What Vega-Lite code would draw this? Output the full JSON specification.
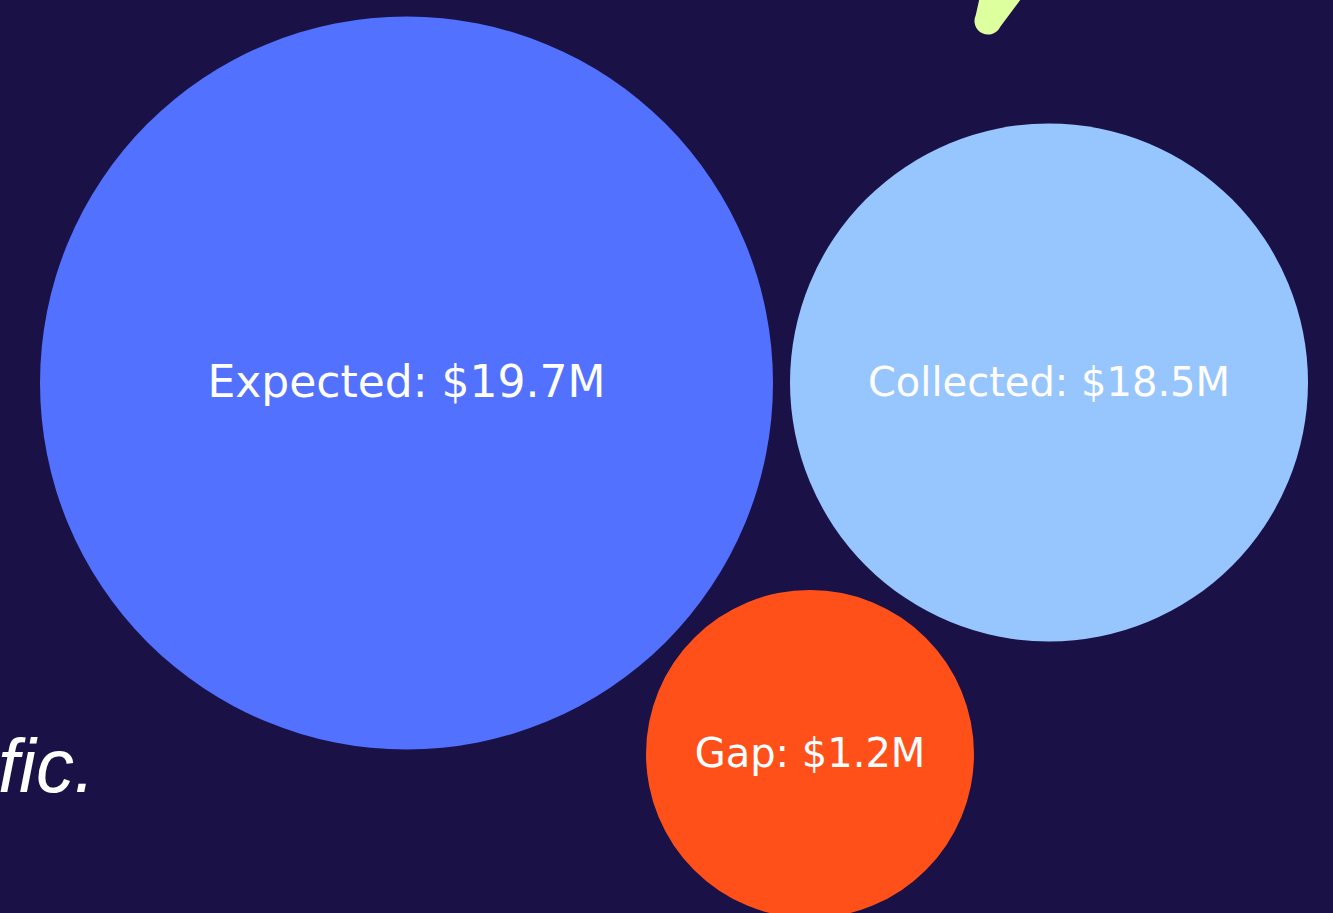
{
  "$schema": "https://vega.github.io/schema/vega-lite/v6.json",
  "width": 1333,
  "height": 913,
  "autosize": {"type": "none"},
  "padding": 0,
  "background": "#1A1147",
  "config": {"view": {"stroke": null}},
  "datasets": {
    "bubbles": [
      {"category": "Expected", "value": 19.7, "label": "Expected: $19.7M", "x": 406.5, "y": 383},
      {"category": "Collected", "value": 18.5, "label": "Collected: $18.5M", "x": 1049, "y": 382.5},
      {"category": "Gap", "value": 1.2, "label": "Gap: $1.2M", "x": 810, "y": 754}
    ],
    "accent": [
      {"order": 1, "x": 988, "y": 21},
      {"order": 2, "x": 1016, "y": -40}
    ],
    "note": [
      {"text": "fic.", "x": -2, "y": 792}
    ]
  },
  "layer": [
    {
      "data": {"name": "bubbles"},
      "mark": {"type": "point", "shape": "circle", "filled": true, "opacity": 1, "strokeWidth": 0},
      "encoding": {
        "x": {"field": "x", "type": "quantitative", "scale": {"domain": [0, 1333], "zero": false, "nice": false}, "axis": null},
        "y": {"field": "y", "type": "quantitative", "scale": {"domain": [0, 913], "zero": false, "nice": false, "reverse": true}, "axis": null},
        "size": {"field": "value", "type": "quantitative", "scale": {"type": "threshold", "domain": [5, 19], "range": [107584, 268324, 537289]}, "legend": null},
        "fill": {"field": "category", "type": "nominal", "scale": {"domain": ["Expected", "Collected", "Gap"], "range": ["#5271FF", "#97C5FD", "#FF5019"]}, "legend": null}
      }
    },
    {
      "data": {"name": "bubbles"},
      "mark": {"type": "text", "font": "DejaVu Sans", "color": "#FFFFFF", "align": "center", "baseline": "middle", "dy": 1},
      "encoding": {
        "x": {"field": "x", "type": "quantitative"},
        "y": {"field": "y", "type": "quantitative"},
        "text": {"field": "label", "type": "nominal"},
        "size": {"field": "value", "type": "quantitative", "scale": {"type": "threshold", "domain": [5, 19], "range": [40, 40, 44]}, "legend": null}
      }
    },
    {
      "data": {"name": "accent"},
      "mark": {"type": "trail", "color": "#DDFF9E"},
      "encoding": {
        "x": {"field": "x", "type": "quantitative"},
        "y": {"field": "y", "type": "quantitative"},
        "order": {"field": "order", "type": "quantitative"},
        "size": {"field": "order", "type": "quantitative", "scale": {"domain": [1, 2], "range": [27, 56], "zero": false}, "legend": null}
      }
    },
    {
      "data": {"name": "note"},
      "mark": {"type": "text", "font": "Liberation Sans", "fontStyle": "italic", "fontSize": 76, "color": "#FFFFFF", "align": "left", "baseline": "alphabetic"},
      "encoding": {
        "x": {"field": "x", "type": "quantitative"},
        "y": {"field": "y", "type": "quantitative"},
        "text": {"field": "text", "type": "nominal"}
      }
    }
  ],
  "resolve": {"scale": {"size": "independent"}}
}
